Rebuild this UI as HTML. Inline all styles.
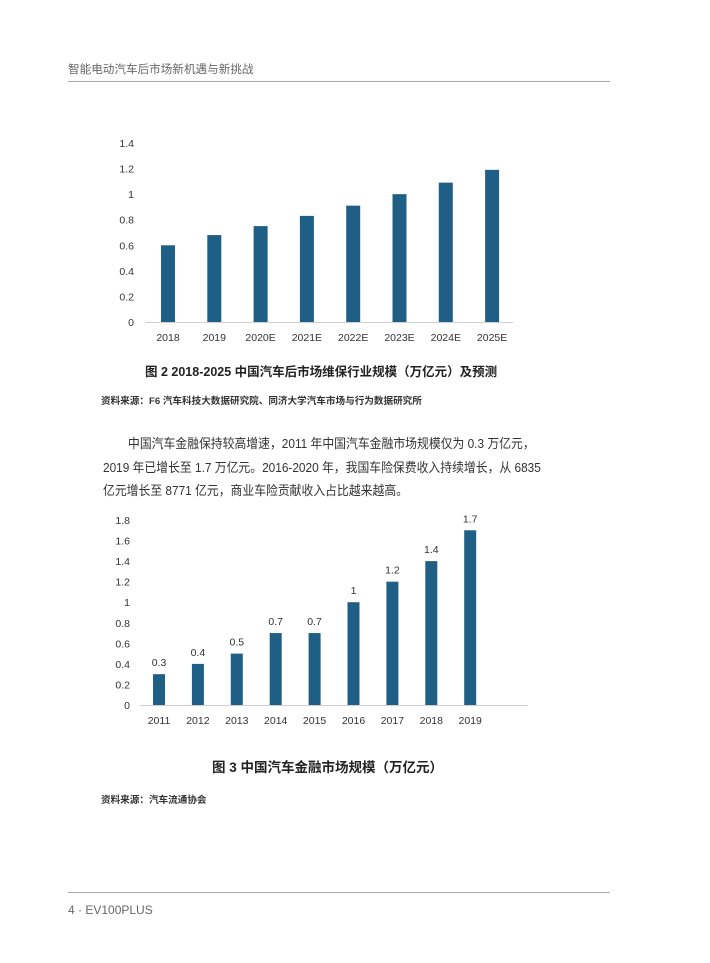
<!DOCTYPE html>
<html><head><meta charset="utf-8">
<style>
body{margin:0;width:710px;height:963px;background:#fff;position:relative;font-family:"Liberation Sans","Noto Sans CJK SC",sans-serif;overflow:hidden}
.a{position:absolute;white-space:nowrap}
.hdr{left:68px;top:61px;font-size:11.6px;color:#666}
.line{position:absolute;left:68px;width:542px;height:1px;background:#aaa}
.cap{font-size:12.5px;font-weight:bold;color:#222}
.src{font-size:9.6px;font-weight:bold;color:#333}
.p{font-size:13px;color:#333;left:103px;transform:scaleX(0.91);transform-origin:0 0}
svg text{font-family:"Liberation Sans","Noto Sans CJK SC",sans-serif}
</style></head><body>
<div class="a hdr">智能电动汽车后市场新机遇与新挑战</div>
<div class="line" style="top:81px"></div>

<svg id="c1" class="a" style="left:0;top:0" width="710" height="963"></svg>

<div class="a cap" style="left:145px;top:361px">图 2 2018-2025 中国汽车后市场维保行业规模（万亿元）及预测</div>
<div class="a src" style="left:101px;top:393px">资料来源：F6 汽车科技大数据研究院、同济大学汽车市场与行为数据研究所</div>

<div class="a p" style="left:128px;top:433px">中国汽车金融保持较高增速，2011 年中国汽车金融市场规模仅为 0.3 万亿元，</div>
<div class="a p" style="top:457px">2019 年已增长至 1.7 万亿元。2016-2020 年，我国车险保费收入持续增长，从 6835</div>
<div class="a p" style="top:480px">亿元增长至 8771 亿元，商业车险贡献收入占比越来越高。</div>

<svg id="c2" class="a" style="left:0;top:0" width="710" height="963"></svg>

<div class="a cap" style="left:212px;top:756px;font-size:13.5px">图 3 中国汽车金融市场规模（万亿元）</div>
<div class="a src" style="left:101px;top:792px">资料来源：汽车流通协会</div>

<div class="line" style="top:892px"></div>
<div class="a" style="left:68px;top:903px;font-size:12px;color:#666">4 · EV100PLUS</div>

<script>
const NS="http://www.w3.org/2000/svg";
const cats1=["2018","2019","2020E","2021E","2022E","2023E","2024E","2025E"];
const vals1=[0.6,0.68,0.75,0.83,0.91,1.0,1.09,1.19];
const ticks1=[0,0.2,0.4,0.6,0.8,1,1.2,1.4];
const cats2=["2011","2012","2013","2014","2015","2016","2017","2018","2019"];
const vals2=[0.3,0.4,0.5,0.7,0.7,1,1.2,1.4,1.7];
const labels2=["0.3","0.4","0.5","0.7","0.7","1","1.2","1.4","1.7"];
const ticks2=[0,0.2,0.4,0.6,0.8,1,1.2,1.4,1.6,1.8];

function mk(svg,tag,attrs,name,text){
  const e=document.createElementNS(NS,tag);
  for(const k in attrs)e.setAttribute(k,attrs[k]);
  
  
  if(text!==undefined)e.textContent=text;
  svg.appendChild(e);return e;
}
function draw(svg,cats,vals,ticks,labels,o){
  const y=v=>o.y0-(v/o.vmax)*(o.y0-o.ytop);
  const x=i=>o.x0+i*o.step;
  mk(svg,'line',{x1:o.ax1,x2:o.ax2,y1:o.y0+0.5,y2:o.y0+0.5,stroke:'#d0d0d0','stroke-width':1},'x-axis');
  ticks.forEach(t=>{
    mk(svg,'text',{x:o.tx,y:y(t)+4,'text-anchor':'end','font-size':10.5,fill:'#333'},'y-tick-label',String(t));
  });
  cats.forEach((c,i)=>{
    mk(svg,'rect',{x:x(i)-o.bw/2,y:y(vals[i]),width:o.bw,height:o.y0-y(vals[i]),fill:'#1f5f86'},'bar-'+c);
    mk(svg,'text',{x:x(i),y:o.y0+19,'text-anchor':'middle','font-size':10.5,fill:'#333'},'x-tick-label',c);
    if(labels)mk(svg,'text',{x:x(i),y:y(vals[i])-8,'text-anchor':'middle','font-size':10.5,fill:'#333'},'value-label',labels[i]);
  });
}
draw(document.getElementById('c1'),cats1,vals1,ticks1,null,{y0:322,ytop:143,vmax:1.4,x0:168,step:46.3,bw:14,ax1:145,ax2:513,tx:134});
draw(document.getElementById('c2'),cats2,vals2,ticks2,labels2,{y0:705,ytop:520,vmax:1.8,x0:159,step:38.9,bw:12,ax1:140,ax2:528,tx:130});
</script>
</body></html>
